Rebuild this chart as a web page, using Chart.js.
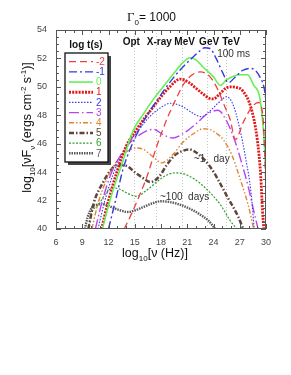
<!DOCTYPE html>
<html>
<head>
<meta charset="utf-8">
<script src="https://cdn.jsdelivr.net/npm/chart.js@4/dist/chart.umd.min.js"></script>
<style>
  body { margin: 0; background: #fff; }
  #wrap { width: 291px; height: 375px; position: relative; }
</style>
</head>
<body>
<div id="wrap"><canvas id="sedChart"></canvas></div>
<script>
// legend labels, log t(s)
const logT = ['-2', '-1', '0', '1', '2', '3', '4', '5', '6', '7'];

// log10(nu) and log10(nuFnu) for each epoch
const nuTm2 = [13.8, 14.65, 15.5, 16.4, 17.5, 18.65, 19.6, 20.7, 21.7, 22.5, 23.6, 24.5, 25.3, 25.9, 26.5, 27.4, 28.3, 29.1, 29.6, 29.9, 30.1];
const fTm2 = [40.0, 41.1, 42.3, 43.7, 45.8, 47.7, 49.0, 50.3, 50.9, 51.05, 50.7, 49.8, 48.6, 47.7, 46.3, 47.5, 48.5, 48.9, 48.2, 44.5, 40.0];

const nuTm1 = [12.0, 12.8, 13.7, 14.6, 15.5, 16.5, 17.5, 18.5, 19.5, 20.5, 21.5, 22.2, 23.0, 23.6, 24.3, 25.05, 25.7, 26.5, 27.3, 28.2, 29.3, 29.9, 30.2];
const fTm1 = [40.0, 42.0, 44.3, 45.8, 47.0, 48.1, 49.0, 49.9, 50.7, 51.4, 52.0, 52.4, 52.75, 52.7, 52.0, 51.0, 50.3, 50.7, 51.15, 51.3, 50.7, 49.5, 47.5];

const nuT0 = [11.3, 12.3, 13.6, 14.8, 16.0, 17.1, 18.5, 19.4, 20.5, 21.3, 22.0, 22.8, 24.0, 24.8, 25.5, 26.3, 27.0, 27.9, 28.6, 29.3, 29.8, 30.0, 30.2];
const fT0 = [40.0, 42.3, 44.7, 46.9, 48.1, 49.1, 50.2, 50.9, 51.7, 52.05, 51.9, 51.4, 50.7, 50.1, 50.5, 50.75, 50.85, 50.85, 50.1, 49.2, 46.1, 43.7, 40.0];

const nuT1 = [11.2, 12.0, 13.0, 14.0, 15.0, 16.0, 17.0, 18.0, 19.0, 20.2, 21.2, 22.0, 22.8, 23.5, 24.0, 24.7, 25.4, 26.0, 26.7, 27.3, 28.3, 29.0, 29.4, 29.6, 29.75];
const fT1 = [40.0, 42.0, 44.1, 45.8, 46.8, 47.7, 48.5, 49.3, 50.0, 50.55, 50.3, 49.9, 49.5, 49.2, 49.15, 49.5, 49.9, 50.0, 49.95, 49.75, 48.5, 46.3, 43.7, 41.3, 40.0];

const nuT2 = [10.8, 11.5, 12.5, 13.5, 14.5, 15.5, 16.7, 18.0, 19.1, 20.5, 21.5, 22.6, 23.6, 24.6, 25.5, 26.2, 26.95, 27.7, 28.3, 28.65];
const fT2 = [40.0, 41.8, 43.8, 45.2, 46.2, 47.0, 47.9, 48.55, 48.85, 48.6, 48.2, 47.9, 48.3, 48.9, 49.3, 48.8, 47.2, 44.9, 42.5, 40.0];

const nuT3 = [10.5, 11.3, 12.3, 13.3, 14.5, 15.5, 16.5, 17.2, 18.2, 19.3, 20.5, 22.0, 23.3, 24.5, 25.5, 26.5, 27.2, 28.0, 28.7, 29.1];
const fT3 = [40.0, 42.0, 43.9, 45.1, 46.1, 46.6, 46.95, 47.0, 46.65, 46.4, 46.7, 47.4, 48.1, 48.35, 47.6, 46.1, 44.7, 42.9, 41.0, 40.0];

const nuT4 = [10.1, 10.8, 11.8, 13.0, 14.2, 15.2, 16.0, 17.05, 18.1, 19.3, 20.5, 21.7, 22.8, 23.6, 24.4, 25.1, 26.1, 27.0, 28.0, 28.6];
const fT4 = [40.0, 41.8, 43.5, 44.8, 45.5, 45.7, 45.6, 45.1, 44.65, 45.2, 46.1, 46.7, 47.05, 47.0, 46.7, 46.3, 45.2, 43.6, 41.6, 40.0];

const nuT5 = [9.7, 10.3, 11.4, 12.2, 13.0, 14.0, 15.0, 15.9, 16.8, 17.8, 18.65, 19.6, 20.5, 21.2, 22.3, 23.6, 24.5, 25.5, 26.2, 26.8, 27.4];
const fT5 = [40.0, 41.8, 43.3, 44.1, 44.5, 44.45, 44.0, 43.6, 43.3, 43.7, 44.5, 45.2, 45.5, 45.6, 45.25, 44.4, 43.5, 42.35, 41.6, 40.9, 40.0];

const nuT6 = [9.7, 10.0, 10.85, 11.7, 12.5, 13.3, 14.2, 15.2, 16.3, 17.5, 18.5, 19.6, 20.5, 21.3, 22.5, 24.0, 24.8, 25.9, 26.65];
const fT6 = [40.0, 41.0, 41.7, 42.5, 42.9, 42.8, 42.5, 42.3, 42.7, 43.3, 43.75, 43.95, 43.9, 43.7, 43.2, 42.3, 41.7, 40.6, 40.0];

const nuT7 = [9.3, 9.6, 10.1, 10.6, 11.4, 12.5, 13.4, 14.2, 15.0, 15.8, 17.0, 18.0, 19.0, 20.0, 21.7, 22.5, 23.4, 24.2];
const fT7 = [40.0, 40.8, 41.5, 41.7, 41.75, 41.5, 41.3, 41.2, 41.3, 41.5, 41.8, 41.95, 41.9, 41.75, 41.3, 41.0, 40.6, 40.0];

// band markers (log10 nu of the dotted lines) and where their names sit
const bandNames = ['Opt', 'X-ray', 'MeV', 'GeV', 'TeV'];
const bandNu = [14.9, 17.4, 20.4, 23.3, 25.4];
const bandLabelNu = [14.6, 17.8, 20.7, 23.5, 26.0];

// curve notes
const notes = ['100 ms', '~1   day', '~100  days'];
const noteNu = [26.3, 23.8, 20.7];
const noteF = [52.3, 44.9, 42.25];

const series = [
  [nuTm2, fTm2], [nuTm1, fTm1], [nuT0, fT0], [nuT1, fT1], [nuT2, fT2],
  [nuT3, fT3], [nuT4, fT4], [nuT5, fT5], [nuT6, fT6], [nuT7, fT7]
];

const styles = [
  { color: '#f04040', width: 1.3, dash: [7, 4] },
  { color: '#3838e0', width: 1.4, dash: [8, 3, 2, 3] },
  { color: '#66f055', width: 1.6, dash: [] },
  { color: '#e01818', width: 2.8, dash: [2, 1.2] },
  { color: '#3a3af0', width: 1.1, dash: [1.5, 1.5] },
  { color: '#b845f0', width: 1.4, dash: [10, 3, 1.5, 3] },
  { color: '#e08535', width: 1.4, dash: [5, 2, 1.5, 2, 1.5, 2] },
  { color: '#5e463c', width: 2.5, dash: [5, 2, 1.5, 2] },
  { color: '#2e9e2e', width: 1.2, dash: [2, 1.5] },
  { color: '#5a5a5a', width: 2.4, dash: [1.5, 1] }
];

const SANS = '"Liberation Sans", Arial, sans-serif';

function richText(ctx, parts, x, y, size, align) {
  let w = 0;
  parts.forEach(p => {
    ctx.font = (p.s || size) + 'px ' + (p.f || SANS);
    w += ctx.measureText(p.t).width;
  });
  let cx = align === 'center' ? x - w / 2 : x;
  parts.forEach(p => {
    ctx.font = (p.s || size) + 'px ' + (p.f || SANS);
    ctx.fillText(p.t, cx, y + (p.dy || 0));
    cx += ctx.measureText(p.t).width;
  });
}

const decor = {
  id: 'decor',
  beforeDatasetsDraw(chart) {
    const { ctx, chartArea: a, scales: { x } } = chart;
    ctx.save();
    ctx.strokeStyle = '#c4c4c4';
    ctx.lineWidth = 1;
    ctx.setLineDash([1, 2]);
    bandNu.forEach(v => {
      const px = Math.round(x.getPixelForValue(v)) + 0.5;
      ctx.beginPath();
      ctx.moveTo(px, a.top);
      ctx.lineTo(px, a.bottom);
      ctx.stroke();
    });
    ctx.restore();
  },
  afterDatasetsDraw(chart) {
    const { ctx, chartArea: a, scales: { x, y } } = chart;
    ctx.save();

    // frame and inward ticks
    ctx.strokeStyle = '#555';
    ctx.lineWidth = 1;
    ctx.setLineDash([]);
    ctx.strokeRect(a.left + 0.5, a.top + 0.5, a.right - a.left - 1, a.bottom - a.top - 1);
    ctx.beginPath();
    for (let v = 6; v <= 30; v++) {
      const px = Math.round(x.getPixelForValue(v)) + 0.5;
      const len = v % 3 === 0 ? 5 : 3;
      ctx.moveTo(px, a.bottom); ctx.lineTo(px, a.bottom - len);
      ctx.moveTo(px, a.top); ctx.lineTo(px, a.top + len);
    }
    for (let v = 40; v <= 54; v += 0.5) {
      const py = Math.round(y.getPixelForValue(v)) + 0.5;
      const len = v % 2 === 0 ? 5 : 3;
      ctx.moveTo(a.left, py); ctx.lineTo(a.left + len, py);
      ctx.moveTo(a.right, py); ctx.lineTo(a.right - len, py);
    }
    ctx.stroke();

    // band names
    ctx.fillStyle = '#111';
    ctx.textAlign = 'center';
    ctx.textBaseline = 'middle';
    ctx.font = 'bold 10px ' + SANS;
    bandNames.forEach((n, i) => ctx.fillText(n, x.getPixelForValue(bandLabelNu[i]), 42));

    // notes on curves
    ctx.font = '10px ' + SANS;
    ctx.fillStyle = '#333';
    notes.forEach((n, i) => ctx.fillText(n, x.getPixelForValue(noteNu[i]), y.getPixelForValue(noteF[i])));

    // legend box
    const bx = 65, by = 53, bw = 43, bh = 109;
    ctx.fillStyle = '#444';
    ctx.fillRect(bx + 3, by + 3, bw, bh);
    ctx.fillStyle = '#fff';
    ctx.fillRect(bx, by, bw, bh);
    ctx.strokeStyle = '#111';
    ctx.lineWidth = 1.3;
    ctx.strokeRect(bx, by, bw, bh);
    ctx.fillStyle = '#111';
    ctx.font = 'bold 10px ' + SANS;
    ctx.fillText('log t(s)', 86, 45);
    ctx.textAlign = 'left';
    ctx.font = '10px ' + SANS;
    chart.data.datasets.forEach((ds, i) => {
      const ly = 61.7 + i * 10.18;
      ctx.strokeStyle = ds.borderColor;
      ctx.lineWidth = ds.borderWidth;
      ctx.setLineDash(ds.borderDash);
      ctx.beginPath();
      ctx.moveTo(69, ly);
      ctx.lineTo(93, ly);
      ctx.stroke();
      ctx.fillStyle = ds.borderColor;
      ctx.fillText(ds.label, 96, ly + 0.5);
    });
    ctx.setLineDash([]);

    // title
    ctx.fillStyle = '#111';
    ctx.textBaseline = 'alphabetic';
    richText(ctx, [
      { t: 'Γ', f: '"Liberation Serif", "Times New Roman", serif', s: 13 },
      { t: '0', s: 8, dy: 4.5 },
      { t: '= 1000' }
    ], 151.5, 20.5, 12, 'center');

    // x axis title
    richText(ctx, [
      { t: 'log' }, { t: '10', s: 8, dy: 4 }, { t: '[ν (Hz)]' }
    ], 155, 256.5, 12.5, 'center');

    // y axis title
    ctx.translate(31, 127.5);
    ctx.rotate(-Math.PI / 2);
    richText(ctx, [
      { t: 'log' }, { t: '10', s: 8, dy: 4 }, { t: '[νF' }, { t: 'ν', s: 8, dy: 4 },
      { t: ' (ergs cm' }, { t: '-2', s: 8, dy: -5 }, { t: ' s' }, { t: '-1', s: 8, dy: -5 }, { t: ')]' }
    ], 0, 0, 12.5, 'center');
    ctx.restore();
  }
};

const ctxSed = document.getElementById('sedChart').getContext('2d');
const sedChart = new Chart(ctxSed, {
  type: 'line',
  data: {
    datasets: series.map(([nu, f], i) => ({
      label: logT[i],
      data: nu.map((v, k) => ({ x: v, y: f[k] })),
      borderColor: styles[i].color,
      borderWidth: styles[i].width,
      borderDash: styles[i].dash,
      borderCapStyle: 'butt',
      pointRadius: 0,
      fill: false,
      cubicInterpolationMode: 'monotone',
      clip: 0
    }))
  },
  options: {
    responsive: true,
    maintainAspectRatio: false,
    animation: false,
    events: [],
    layout: { padding: { left: 0, right: 25, top: 30, bottom: 0 } },
    plugins: { legend: { display: false }, title: { display: false }, tooltip: { enabled: false } },
    scales: {
      x: {
        type: 'linear',
        min: 6,
        max: 30,
        grid: { display: false, drawTicks: false },
        border: { display: false },
        ticks: { stepSize: 3, padding: 8, color: '#444', font: { family: SANS, size: 9 } },
        afterFit: s => { s.height = 146; }
      },
      y: {
        min: 40,
        max: 54,
        grid: { display: false, drawTicks: false },
        border: { display: false },
        ticks: { stepSize: 2, padding: 9, color: '#444', font: { family: SANS, size: 9 } },
        afterFit: s => { s.width = 56; }
      }
    }
  },
  plugins: [decor]
});
</script>
</body>
</html>
